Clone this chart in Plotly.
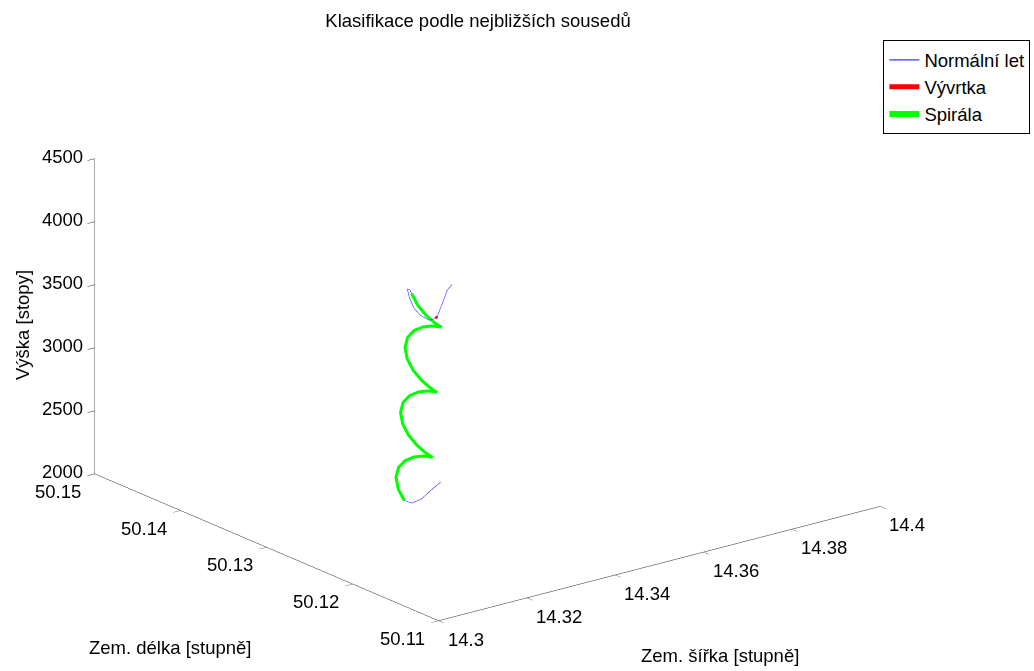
import plotly.graph_objects as go

# Flight track classified by nearest neighbours (lon, lat in degrees, altitude in feet)
normal_lon = [14.31932, 14.31831, 14.31692, 14.31473, 14.31334, 14.31303, 14.31215, 14.31336,
              14.31564, 14.31960, 14.32352, 14.32464, 14.32447, None,
              14.32141, 14.32187, 14.32479, 14.32935, 14.33358]
normal_lat = [50.11835, 50.11841, 50.11803, 50.11736, 50.11698, 50.11705, 50.11730, 50.11899,
              50.12090, 50.12344, 50.12572, 50.12596, 50.12571, None,
              50.12501, 50.12439, 50.12474, 50.12595, 50.12699]
normal_alt = [4250, 4210, 4170, 4130, 4090, 4075, 4060, 4040,
              4020, 3990, 3960, 3935, 3915, None,
              2324, 2315, 2310, 2305, 2300]

spin_lon = [14.31334, 14.31303]
spin_lat = [50.11698, 50.11705]
spin_alt = [4090, 4075]

spiral_lon = [14.32447, 14.32330, 14.32297, 14.32354, 14.32485,
              14.32654, 14.32814, 14.32920, 14.32943, 14.32875, 14.32734,
              14.32554, 14.32384, 14.32267, 14.32234, 14.32291, 14.32422,
              14.32591, 14.32751, 14.32857, 14.32880, 14.32812, 14.32671,
              14.32491, 14.32321, 14.32204, 14.32171, 14.32228, 14.32359,
              14.32528, 14.32688, 14.32794, 14.32817, 14.32749, 14.32608,
              14.32428, 14.32258, 14.32141]
spiral_lat = [50.12571, 50.12441, 50.12328, 50.12262, 50.12262,
              50.12328, 50.12443, 50.12576, 50.12692, 50.12761, 50.12765,
              50.12702, 50.12591, 50.12461, 50.12348, 50.12282, 50.12282,
              50.12348, 50.12463, 50.12596, 50.12712, 50.12781, 50.12785,
              50.12722, 50.12611, 50.12481, 50.12368, 50.12302, 50.12302,
              50.12368, 50.12483, 50.12616, 50.12732, 50.12801, 50.12805,
              50.12742, 50.12631, 50.12501]
spiral_alt = [3915, 3872, 3829, 3786, 3743,
              3700, 3657, 3614, 3571, 3528, 3485,
              3442, 3399, 3356, 3313, 3270, 3227,
              3184, 3141, 3098, 3055, 3012, 2969,
              2926, 2883, 2840, 2797, 2754, 2711,
              2668, 2625, 2582, 2539, 2496, 2453,
              2410, 2367, 2324]

lon_ticks = [14.30, 14.32, 14.34, 14.36, 14.38, 14.40]
lon_labels = ["14.3", "14.32", "14.34", "14.36", "14.38", "14.4"]
lat_ticks = [50.11, 50.12, 50.13, 50.14, 50.15]
lat_labels = ["50.11", "50.12", "50.13", "50.14", "50.15"]
alt_ticks = [2000, 2500, 3000, 3500, 4000, 4500]
alt_labels = ["2000", "2500", "3000", "3500", "4000", "4500"]

LON_MIN, LON_MAX = 14.3, 14.4
LAT_MIN, LAT_MAX = 50.11, 50.15
ALT_MIN, ALT_MAX = 2000, 4500

FONT = "Liberation Sans, Arial, Helvetica, sans-serif"
FS = 18.5
AXIS_COLOR = "#262626"

fig = go.Figure()
fig.add_trace(go.Scatter3d(x=normal_lon, y=normal_lat, z=normal_alt, mode="lines",
                           name="Normální let", line=dict(color="#3a3aff", width=1.2)))
fig.add_trace(go.Scatter3d(x=spin_lon, y=spin_lat, z=spin_alt, mode="lines",
                           name="Vývrtka", line=dict(color="#ff0000", width=5)))
fig.add_trace(go.Scatter3d(x=spiral_lon, y=spiral_lat, z=spiral_alt, mode="lines",
                           name="Spirála", line=dict(color="#00ff00", width=6)))


def axis(rng, vals):
    return dict(range=rng, tickvals=vals, showticklabels=False, showbackground=False,
                showgrid=False, zeroline=False, showline=True, linecolor=AXIS_COLOR,
                linewidth=1, ticks="outside", ticklen=9, tickcolor=AXIS_COLOR,
                tickwidth=1, title=dict(text=""), showspikes=False, autorange=False)


tick_font = dict(family=FONT, size=FS, color="black")
scene_labels = []
# tick labels sit just outside the box edges that carry the axes
for v, t in zip(lon_ticks, lon_labels):
    scene_labels.append(dict(x=v, y=LAT_MIN, z=ALT_MIN, text=t, showarrow=False,
                             xanchor="left", yanchor="top", xshift=7, yshift=-6,
                             font=tick_font))
for v, t in zip(lat_ticks, lat_labels):
    scene_labels.append(dict(x=LON_MIN, y=v, z=ALT_MIN, text=t, showarrow=False,
                             xanchor="right", yanchor="top", xshift=-12, yshift=-5,
                             font=tick_font))
for v, t in zip(alt_ticks, alt_labels):
    scene_labels.append(dict(x=LON_MIN, y=LAT_MAX, z=v, text=t, showarrow=False,
                             xanchor="right", yanchor="middle", xshift=-10, yshift=2,
                             font=tick_font))

fig.update_layout(
    width=1034, height=671, margin=dict(l=0, r=0, t=0, b=0),
    paper_bgcolor="white", plot_bgcolor="white",
    font=dict(family=FONT, size=FS, color="black"),
    title=dict(text="Klasifikace podle nejbližších sousedů", x=0.4623, y=0.970,
               xanchor="center", yanchor="middle", font=dict(family=FONT, size=FS)),
    showlegend=True,
    legend=dict(x=0.9965, y=0.94, xanchor="right", yanchor="top", bgcolor="white",
                bordercolor="black", borderwidth=1, itemwidth=30,
                font=dict(family=FONT, size=FS)),
    scene=dict(
        domain=dict(x=[0, 0.943], y=[0.009, 1.0]),
        xaxis=axis([LON_MIN, LON_MAX], lon_ticks),
        yaxis=axis([LAT_MIN, LAT_MAX], lat_ticks),
        zaxis=axis([ALT_MIN, ALT_MAX], alt_ticks),
        aspectmode="manual", aspectratio=dict(x=1.684, y=1.684, z=1.005),
        camera=dict(eye=dict(x=-0.683, y=-0.877, z=0.392),
                    up=dict(x=0, y=0, z=1), center=dict(x=0, y=0, z=0),
                    projection=dict(type="orthographic")),
        annotations=scene_labels,
    ),
    annotations=[
        dict(text="Zem. délka [stupně]", x=0.1644, y=0.0343, xref="paper", yref="paper",
             showarrow=False, xanchor="center", yanchor="middle"),
        dict(text="Zem. šířka [stupně]", x=0.6963, y=0.0224, xref="paper", yref="paper",
             showarrow=False, xanchor="center", yanchor="middle"),
        dict(text="Výška [stopy]", x=0.0213, y=0.5156, xref="paper", yref="paper",
             showarrow=False, xanchor="center", yanchor="middle", textangle=-90),
    ],
)

fig.write_html("out.html", config={"displayModeBar": False})
